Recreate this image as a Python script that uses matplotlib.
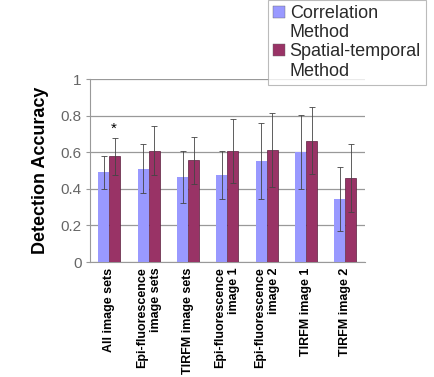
import matplotlib
matplotlib.use("Agg")
import matplotlib.pyplot as plt
from matplotlib.patches import Patch
import numpy as np

plt.rcParams['font.family'] = ['Liberation Sans', 'DejaVu Sans']

categories = ["All image sets", "Epi-fluorescence\nimage sets", "TIRFM image sets",
              "Epi-fluorescence\nimage 1", "Epi-fluorescence\nimage 2",
              "TIRFM image 1", "TIRFM image 2"]
series_names = ["Correlation\nMethod", "Spatial-temporal\nMethod"]
corr_vals = [0.49, 0.51, 0.465, 0.476, 0.553, 0.602, 0.347]
corr_err = [0.09, 0.135, 0.14, 0.13, 0.21, 0.20, 0.175]
st_vals = [0.578, 0.609, 0.556, 0.609, 0.613, 0.664, 0.46]
st_err = [0.10, 0.135, 0.13, 0.175, 0.20, 0.185, 0.185]
yticks = [0, 0.2, 0.4, 0.6, 0.8, 1]
ytick_labels = ["0", "0.2", "0.4", "0.6", "0.8", "1"]

fig = plt.figure(figsize=(4.34, 3.77), dpi=100)
ax = fig.add_axes([0.207, 0.305, 0.634, 0.485])

x = np.arange(len(categories))
w = 0.28
blue = '#9999FF'
red = '#993366'
ekw = dict(ecolor='#444444', elinewidth=0.6, capsize=2, capthick=0.6)
ax.bar(x - w/2, corr_vals, w, color=blue, yerr=corr_err, error_kw=ekw, zorder=3)
ax.bar(x + w/2, st_vals, w, color=red, edgecolor='#5a1f3d', linewidth=0.5,
       yerr=st_err, error_kw=ekw, zorder=3)

ax.text(x[0] + w/2 - 0.03, st_vals[0] + st_err[0] + 0.01, "*", ha='center', va='bottom',
        fontsize=11)

ax.set_xlim(-0.5, len(categories) - 0.5)
ax.set_ylim(0, 1)
ax.set_yticks(yticks)
ax.set_yticklabels(ytick_labels, color='#666666', fontsize=11)
ax.yaxis.grid(True, color='#999999', linewidth=0.9, zorder=0)
ax.set_axisbelow(True)
ax.set_xticks(x)
ax.set_xticklabels(categories, rotation=90, fontsize=9, fontweight='bold',
                   ha='center', va='top', multialignment='right')
ax.tick_params(axis='x', length=0, pad=4)
ax.tick_params(axis='y', length=3, color='#999999', pad=3)
for s in ['top', 'right']:
    ax.spines[s].set_visible(False)
for s in ['left', 'bottom']:
    ax.spines[s].set_color('#999999')
ax.set_ylabel("Detection Accuracy", fontsize=13, fontweight='bold', labelpad=8)

# legend: first line of each name gets the colour square
handles, labels = [], []
for name, col in zip(series_names, [blue, red]):
    parts = name.split("\n")
    handles.append(Patch(facecolor=col, edgecolor='#666666', linewidth=0.3))
    labels.append(parts[0])
    for p in parts[1:]:
        handles.append(Patch(facecolor='none', edgecolor='none'))
        labels.append(p)
leg = fig.legend(handles, labels, loc='lower left', bbox_to_anchor=(0.6175, 0.7745),
                 fontsize=13, frameon=True, fancybox=False, edgecolor='#aaaaaa',
                 handlelength=0.65, handleheight=0.65, handletextpad=0.25,
                 borderpad=0.3, labelspacing=0.12, borderaxespad=0)
leg.get_frame().set_linewidth(0.8)
for t in leg.get_texts():
    t.set_color('#2a2a2a')

fig.savefig("out.png", dpi=100)
